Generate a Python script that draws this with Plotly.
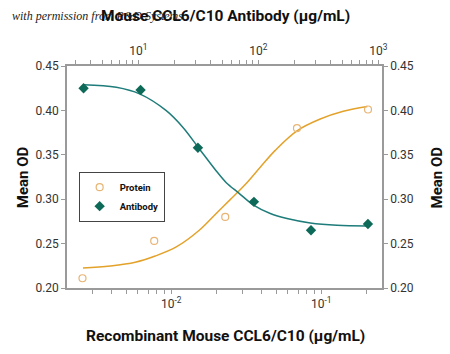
import plotly.graph_objects as go

# ---------------- data ----------------
protein_conc = [0.00256, 0.0077, 0.0229, 0.0689, 0.205]          # µg/mL (bottom axis)
protein_od = [0.211, 0.253, 0.280, 0.380, 0.401]

antibody_conc = [3.5, 10.45, 31.4, 92.0, 275.0, 820.0]            # µg/mL (top axis)
antibody_od = [0.425, 0.423, 0.358, 0.297, 0.265, 0.272]

# fitted curves
protein_fit_x = [0.002578, 0.00392, 0.005754, 0.007822, 0.0108, 0.01537, 0.01995,
                 0.02473, 0.03113, 0.0392, 0.04935, 0.06887, 0.09848, 0.1402, 0.2026]
protein_fit_y = [0.2224, 0.2248, 0.229, 0.236, 0.2462, 0.265, 0.284,
                 0.2995, 0.3165, 0.336, 0.355, 0.377, 0.3903, 0.399, 0.4045]

antibody_fit_x = [3.501, 6.557, 10.25, 17.11, 23.58, 32.43, 44.67, 54.12,
                  68.51, 91.37, 125.9, 173.5, 271.3, 452.7, 805.0]
antibody_fit_y = [0.429, 0.426, 0.4186, 0.3997, 0.3808, 0.3563, 0.3318, 0.3186,
                  0.3072, 0.2933, 0.2839, 0.2783, 0.2733, 0.2707, 0.2699]

y_ticks = [0.20, 0.25, 0.30, 0.35, 0.40, 0.45]
y_ticktext = ["0.20", "0.25", "0.30", "0.35", "0.40", "0.45"]

bottom_major = [0.01, 0.1]
bottom_major_text = ["10<sup>-2</sup>", "10<sup>-1</sup>"]
bottom_minor = [m * 10.0 ** e for e in (-3, -2, -1) for m in range(2, 10)]
top_major = [10, 100, 1000]
top_major_text = ["10<sup>1</sup>", "10<sup>2</sup>", "10<sup>3</sup>"]
top_minor = [m * 10.0 ** e for e in (0, 1, 2) for m in range(2, 10)]

# ---------------- styling ----------------
FONT = "Roboto, Liberation Sans, sans-serif"
AXIS_C = "#9a9a9a"
ORANGE_LINE = "#E3A22A"
ORANGE_MK = "#E8B473"
TEAL_LINE = "#1E7C7A"
TEAL_MK = "#0E6A58"

fig = go.Figure()

fig.add_trace(go.Scatter(x=protein_fit_x, y=protein_fit_y, mode="lines",
                         line=dict(color=ORANGE_LINE, width=1.5, shape="spline"),
                         showlegend=False, xaxis="x", yaxis="y"))
fig.add_trace(go.Scatter(x=antibody_fit_x, y=antibody_fit_y, mode="lines",
                         line=dict(color=TEAL_LINE, width=1.5, shape="spline"),
                         showlegend=False, xaxis="x2", yaxis="y"))
fig.add_trace(go.Scatter(x=protein_conc, y=protein_od, mode="markers", name="Protein",
                         marker=dict(symbol="circle-open", size=7, color=ORANGE_MK,
                                     line=dict(width=1.2, color=ORANGE_MK)),
                         xaxis="x", yaxis="y"))
fig.add_trace(go.Scatter(x=antibody_conc, y=antibody_od, mode="markers", name="Antibody",
                         marker=dict(symbol="diamond", size=8, color=TEAL_MK),
                         xaxis="x2", yaxis="y"))
# dummy trace to activate yaxis2
fig.add_trace(go.Scatter(x=[None], y=[None], xaxis="x", yaxis="y2", showlegend=False,
                         hoverinfo="skip"))

axis_common = dict(showline=True, linecolor=AXIS_C, linewidth=1.5, ticks="outside",
                   tickcolor=AXIS_C, ticklen=4, tickwidth=1, showgrid=False, zeroline=False,
                   tickfont=dict(family=FONT, size=12, color="#333333"))
minor_common = dict(ticks="outside", ticklen=4, tickcolor=AXIS_C, tickwidth=1,
                    showgrid=False)

fig.update_layout(
    width=450, height=354,
    margin=dict(l=67, r=68, t=66, b=66),
    paper_bgcolor="white", plot_bgcolor="white",
    xaxis=dict(type="log", range=[-2.695, -0.595], tickmode="array",
               tickvals=bottom_major, ticktext=bottom_major_text, side="bottom",
               minor=dict(tickmode="array", tickvals=bottom_minor, **minor_common),
               **axis_common),
    xaxis2=dict(type="log", range=[0.406, 3.031], tickmode="array",
                tickvals=top_major, ticktext=top_major_text, side="top", overlaying="x",
                anchor="y", minor=dict(tickmode="array", tickvals=top_minor, **minor_common),
                **axis_common),
    yaxis=dict(range=[0.20, 0.45], tickmode="array", tickvals=y_ticks,
               ticktext=y_ticktext, side="left", **axis_common),
    yaxis2=dict(range=[0.20, 0.45], tickmode="array", tickvals=y_ticks,
                ticktext=y_ticktext, side="right", overlaying="y", anchor="x",
                **axis_common),
    legend=dict(x=0.037, y=0.524, xanchor="left", yanchor="top",
                bordercolor="#444444", borderwidth=1, bgcolor="white",
                font=dict(family=FONT, size=9.5, color="#111111", weight="bold"),
                tracegroupgap=0),
    showlegend=True,
)

ann_font = dict(family=FONT, size=16, color="#111111", weight="bold")
fig.add_annotation(text="<i>with permission from R&amp;D Systems</i>", xref="paper", yref="paper",
                   x=-0.18, y=1.226, xanchor="left", yanchor="middle", showarrow=False,
                   font=dict(family="Liberation Serif, DejaVu Serif, serif", size=12,
                             color="#222222"))
fig.add_annotation(text="Mouse CCL6/C10 Antibody (µg/mL)", xref="paper", yref="paper",
                   x=0.504, y=1.226, xanchor="center", yanchor="middle", showarrow=False,
                   font=dict(family=FONT, size=15.5, color="#111111", weight="bold"))
fig.add_annotation(text="Recombinant Mouse CCL6/C10 (µg/mL)", xref="paper", yref="paper",
                   x=0.502, y=-0.216, xanchor="center", yanchor="middle", showarrow=False,
                   font=dict(family=FONT, size=15.5, color="#111111", weight="bold"))
fig.add_annotation(text="Mean OD", xref="paper", yref="paper",
                   x=-0.139, y=0.5, xanchor="center", yanchor="middle", showarrow=False,
                   textangle=-90, font=dict(family=FONT, size=15, color="#111111",
                                            weight="bold"))
fig.add_annotation(text="Mean OD", xref="paper", yref="paper",
                   x=1.176, y=0.5, xanchor="center", yanchor="middle", showarrow=False,
                   textangle=-90, font=dict(family=FONT, size=15, color="#111111",
                                            weight="bold"))

fig.write_html("out.html")
